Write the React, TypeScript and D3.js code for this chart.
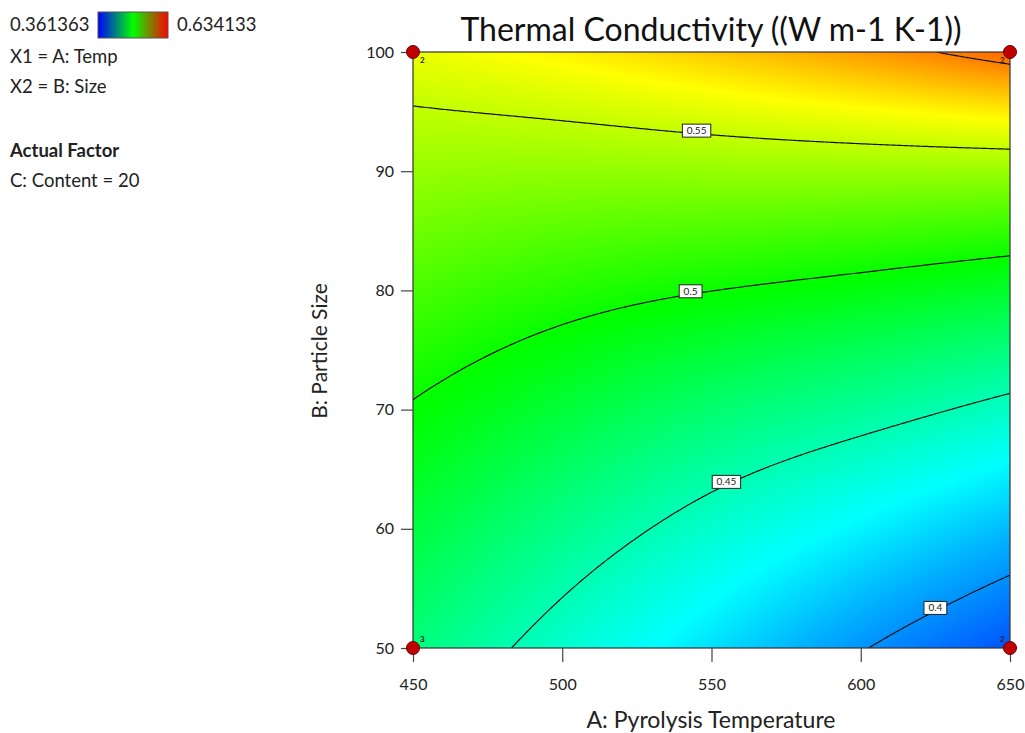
import React, { useEffect, useRef } from 'react'
import * as d3 from 'd3'

// axis ticks
const tempTicks = [450, 500, 550, 600, 650]
const sizeTicks = [50, 60, 70, 80, 90, 100]

// response, one column per temperature, size = 50, 55, ..., 100
const gridTemps = [450, 500, 550, 600, 650]
const gridSizes = [50, 55, 60, 65, 70, 75, 80, 85, 90, 95, 100]
const kAt450 = [0.465, 0.473, 0.4812, 0.4897, 0.4985, 0.5077, 0.5173, 0.5273, 0.5378, 0.5489, 0.5607]
const kAt500 = [0.4425, 0.4514, 0.461, 0.4714, 0.4826, 0.4946, 0.5076, 0.5216, 0.5366, 0.5525, 0.5693]
const kAt550 = [0.4215, 0.4318, 0.4428, 0.4548, 0.4683, 0.4834, 0.5002, 0.5183, 0.5376, 0.5582, 0.58]
const kAt600 = [0.401, 0.4134, 0.4268, 0.4413, 0.4572, 0.4746, 0.4939, 0.5151, 0.5385, 0.5642, 0.5926]
const kAt650 = [0.3838, 0.3969, 0.4114, 0.4273, 0.4449, 0.4643, 0.4861, 0.5107, 0.5387, 0.5708, 0.6078]

const contourLevels = [0.4, 0.45, 0.5, 0.55, 0.6]
const labelLevels = [0.4, 0.45, 0.5, 0.55]
const labelTemps = [625, 555, 543, 545]

const designTemps = [450, 650, 450, 650]
const designSizes = [100, 100, 50, 50]
const designRuns = ['2', '2', '3', '2']

const colorMin = 0.361363
const colorMax = 0.634133

const FONT = 'Lato, "Open Sans", sans-serif'

// natural cubic spline helpers
function splineM(xs: number[], ys: number[]) {
  const n = xs.length
  const M = new Array(n).fill(0)
  const cp: number[] = new Array(n).fill(0)
  const dp: number[] = new Array(n).fill(0)
  for (let i = 1; i < n - 1; i++) {
    const h0 = xs[i] - xs[i - 1], h1 = xs[i + 1] - xs[i]
    const a = h0 / 6, b = (h0 + h1) / 3, c = h1 / 6
    const d = (ys[i + 1] - ys[i]) / h1 - (ys[i] - ys[i - 1]) / h0
    const den = b - a * cp[i - 1]
    cp[i] = c / den
    dp[i] = (d - a * dp[i - 1]) / den
  }
  for (let i = n - 2; i >= 1; i--) M[i] = dp[i] - cp[i] * M[i + 1]
  return M
}
function splineAt(xs: number[], ys: number[], M: number[], xv: number) {
  const n = xs.length
  const xc = Math.max(xs[0], Math.min(xs[n - 1], xv))
  let k = 0
  while (k < n - 2 && xc > xs[k + 1]) k++
  const h = xs[k + 1] - xs[k]
  const A = (xs[k + 1] - xc) / h, B = (xc - xs[k]) / h
  return A * ys[k] + B * ys[k + 1] + ((A * A * A - A) * M[k] + (B * B * B - B) * M[k + 1]) * h * h / 6
}

export default function App() {
  const ref = useRef<SVGSVGElement>(null)

  useEffect(() => {
    const svg = d3.select(ref.current)
    svg.selectAll('*').remove()

    const x = d3.scaleLinear().domain([450, 650]).range([413, 1010])
    const y = d3.scaleLinear().domain([50, 100]).range([648, 52])
    const pw = 1010 - 413
    const ph = 648 - 52

    const grid = [kAt450, kAt500, kAt550, kAt600, kAt650]
    const colM = grid.map(col => splineM(gridSizes, col))
    // spline across temperature for one particle size
    const rowAt = (size: number) => {
      const vals = grid.map((col, i) => splineAt(gridSizes, col, colM[i], size))
      const M = splineM(gridTemps, vals)
      return (temp: number) => splineAt(gridTemps, vals, M, temp)
    }
    const surface = (temp: number, size: number) => rowAt(size)(temp)

    const span = colorMax - colorMin
    const color = d3.scaleLinear<string>()
      .domain([0, 0.25, 0.5, 0.75, 1].map(f => colorMin + f * span))
      .range(['#0000ff', '#00ffff', '#00ff00', '#ffff00', '#ff0000'])
      .interpolate(d3.interpolateRgb)
      .clamp(true)
    const lut = d3.range(1024).map(k => d3.rgb(color(colorMin + (k / 1023) * span)))

    // fill image
    const canvas = document.createElement('canvas')
    canvas.width = pw
    canvas.height = ph
    const ctx = canvas.getContext('2d')!
    const img = ctx.createImageData(pw, ph)
    for (let py = 0; py < ph; py++) {
      const row = rowAt(y.invert(52 + py + 0.5))
      for (let px = 0; px < pw; px++) {
        const val = row(x.invert(413 + px + 0.5))
        const k = Math.max(0, Math.min(1023, Math.round(((val - colorMin) / span) * 1023)))
        const c = lut[k]
        const o = (py * pw + px) * 4
        img.data[o] = c.r
        img.data[o + 1] = c.g
        img.data[o + 2] = c.b
        img.data[o + 3] = 255
      }
    }
    ctx.putImageData(img, 0, 0)

    svg.append('image')
      .attr('x', 413).attr('y', 52)
      .attr('width', pw).attr('height', ph)
      .attr('preserveAspectRatio', 'none')
      .attr('href', canvas.toDataURL())

    // contour lines
    const defs = svg.append('defs')
    defs.append('clipPath').attr('id', 'plotclip')
      .append('rect').attr('x', 413).attr('y', 52).attr('width', pw).attr('height', ph)

    const n = 300, m = 300, pad = 8
    const ex0 = 413 - pad, ey0 = 52 - pad
    const cw = (pw + 2 * pad) / n, ch = (ph + 2 * pad) / m
    const values: number[] = new Array(n * m)
    for (let r = 0; r < m; r++) {
      const row = rowAt(y.invert(ey0 + (r + 0.5) * ch))
      for (let c = 0; c < n; c++) {
        values[r * n + c] = row(x.invert(ex0 + (c + 0.5) * cw))
      }
    }
    const contours = d3.contours().size([n, m]).thresholds(contourLevels)(values)
    const toPath = (geo: any) => geo.coordinates.map((poly: any) => poly.map((ring: any) =>
      'M' + ring.map((p: number[]) => `${(ex0 + p[0] * cw).toFixed(2)},${(ey0 + p[1] * ch).toFixed(2)}`).join('L') + 'Z'
    ).join('')).join('')

    svg.append('g').attr('clip-path', 'url(#plotclip)')
      .selectAll('path').data(contours).join('path')
      .attr('d', d => toPath(d))
      .attr('fill', 'none')
      .attr('stroke', '#111')
      .attr('stroke-width', 1.2)

    // contour labels
    const labels = svg.append('g')
    labelLevels.forEach((lev, i) => {
      const t = labelTemps[i]
      let lo = 50, hi = 100
      for (let k = 0; k < 40; k++) {
        const mid = (lo + hi) / 2
        if (surface(t, mid) < lev) lo = mid; else hi = mid
      }
      const cx = x(t), cy = y((lo + hi) / 2) - 3
      const txt = String(lev)
      const w = txt.length * 5.6 + 6
      labels.append('rect')
        .attr('x', cx - w / 2).attr('y', cy - 6.5)
        .attr('width', w).attr('height', 13)
        .attr('fill', '#fff').attr('stroke', '#222').attr('stroke-width', 1)
      labels.append('text')
        .attr('x', cx).attr('y', cy + 3.5)
        .attr('text-anchor', 'middle')
        .attr('font-family', FONT).attr('font-size', 10)
        .attr('fill', '#222')
        .text(txt)
    })

    // frame
    svg.append('rect')
      .attr('x', 413).attr('y', 52).attr('width', pw).attr('height', ph)
      .attr('fill', 'none').attr('stroke', '#333').attr('stroke-width', 1.2)

    // axes
    const yAxis = svg.append('g')
      .attr('transform', 'translate(413,0)')
      .call(d3.axisLeft(y).tickValues(sizeTicks).tickSize(12).tickSizeOuter(0).tickPadding(7).tickFormat(d3.format('d')))
    const xAxis = svg.append('g')
      .attr('transform', 'translate(0,648)')
      .call(d3.axisBottom(x).tickValues(tempTicks).tickSize(14).tickSizeOuter(0).tickPadding(17).tickFormat(d3.format('d')))
    ;[yAxis, xAxis].forEach(a => {
      a.select('.domain').remove()
      a.selectAll('line').attr('stroke', '#444').attr('stroke-width', 1.2)
      a.selectAll('text').attr('font-family', FONT).attr('font-size', 16).attr('fill', '#222')
    })

    // design points
    const pts = svg.append('g')
    designTemps.forEach((t, i) => {
      pts.append('circle')
        .attr('cx', x(t)).attr('cy', y(designSizes[i])).attr('r', 6.5)
        .attr('fill', '#c00000').attr('stroke', '#6a0000').attr('stroke-width', 1)
      const left = t === 450
      const top = designSizes[i] === 100
      pts.append('text')
        .attr('x', x(t) + (left ? 7 : -10))
        .attr('y', y(designSizes[i]) + (top ? 11 : -6))
        .attr('font-family', FONT).attr('font-size', 8).attr('font-weight', 'bold')
        .attr('fill', '#222')
        .text(designRuns[i])
    })

    // titles
    svg.append('text')
      .attr('x', 711).attr('y', 41)
      .attr('text-anchor', 'middle')
      .attr('font-family', FONT).attr('font-size', 32).attr('fill', '#111')
      .text('Thermal Conductivity ((W m-1 K-1))')
    svg.append('text')
      .attr('x', 711).attr('y', 728)
      .attr('text-anchor', 'middle')
      .attr('font-family', FONT).attr('font-size', 23).attr('fill', '#222')
      .text('A: Pyrolysis Temperature')
    svg.append('text')
      .attr('transform', 'translate(327,351) rotate(-90)')
      .attr('text-anchor', 'middle')
      .attr('font-family', FONT).attr('font-size', 21).attr('fill', '#222')
      .text('B: Particle Size')

    // legend
    const grad = defs.append('linearGradient').attr('id', 'legendgrad')
    ;[['0%', '#0000ff'], ['50%', '#00ff00'], ['100%', '#ff0000']].forEach(([o, c]) =>
      grad.append('stop').attr('offset', o).attr('stop-color', c))
    svg.append('rect')
      .attr('x', 98).attr('y', 12).attr('width', 70).attr('height', 26)
      .attr('fill', 'url(#legendgrad)').attr('stroke', '#555').attr('stroke-width', 1)
    const legendText = (tx: number, ty: number, s: string, bold = false) =>
      svg.append('text')
        .attr('x', tx).attr('y', ty)
        .attr('font-family', FONT).attr('font-size', 18.5)
        .attr('font-weight', bold ? 'bold' : 'normal')
        .attr('fill', '#222')
        .text(s)
    legendText(10, 31, String(colorMin))
    legendText(177, 31, String(colorMax))
    legendText(10, 63, 'X1 = A: Temp')
    legendText(10, 93, 'X2 = B: Size')
    legendText(10, 157, 'Actual Factor', true)
    legendText(10, 187, 'C: Content = 20')
  }, [])

  return (
    <svg
      ref={ref}
      width={1025}
      height={733}
      style={{ position: 'absolute', left: 0, top: 0, background: '#fff' }}
    />
  )
}
